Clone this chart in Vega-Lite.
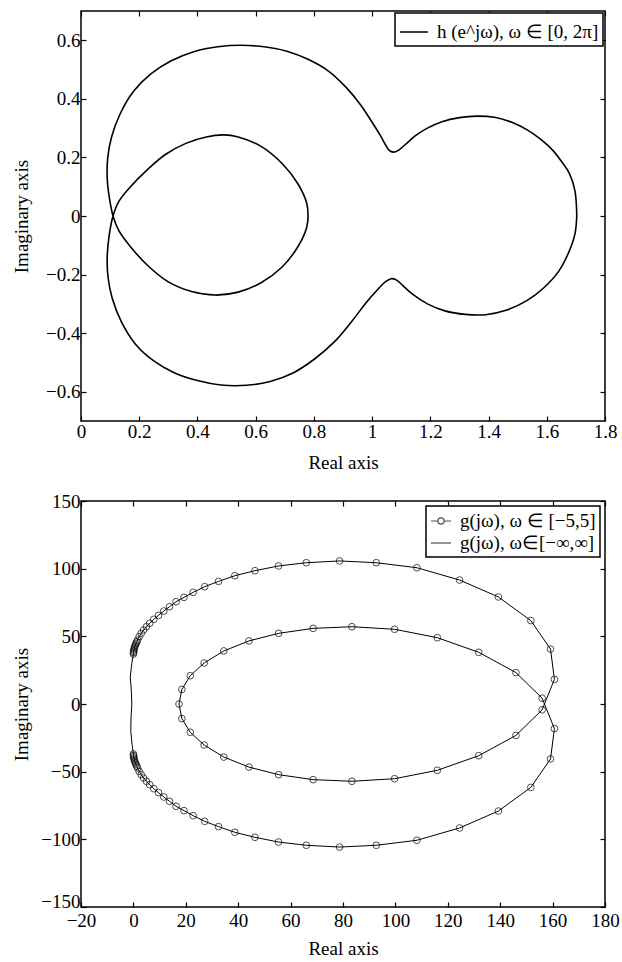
{
  "$schema": "https://vega.github.io/schema/vega-lite/v6.json",
  "background": "white",
  "padding": {"left": 11, "top": 9, "right": 8, "bottom": 2},
  "spacing": 18,
  "resolve": {"legend": {"color": "independent", "shape": "independent"}, "scale": {"color": "independent", "shape": "independent"}},
  "config": {
    "font": "Liberation Serif",
    "view": {"stroke": "black", "strokeWidth": 1.5},
    "axis": {
      "domain": false, "grid": false, "tickColor": "black", "tickSize": -5, "tickWidth": 1.2,
      "labelFont": "Liberation Serif", "labelFontSize": 19, "labelColor": "black", "labelPadding": 6,
      "labelOverlap": false, "labelFlush": false,
      "titleFont": "Liberation Serif", "titleFontSize": 19, "titleFontWeight": "normal", "titleColor": "black"
    },
    "legend": {
      "orient": "top-right", "offset": 3, "padding": 4, "strokeColor": "black", "strokeWidth": 1.5,
      "fillColor": "white", "labelFont": "Liberation Serif", "labelFontSize": 19, "labelColor": "black",
      "symbolStrokeColor": "black", "symbolStrokeWidth": 1.2, "symbolFillColor": "transparent",
      "rowPadding": 1, "labelOffset": 8, "symbolSize": 400, "title": null, "labelLimit": 400
    }
  },
  "datasets": {
    "h": [
      {"o":1,"x":1.703,"y":0},{"o":2,"x":1.697,"y":0.085},{"o":3,"x":1.678,"y":0.145},{"o":4,"x":1.655,"y":0.18},
      {"o":5,"x":1.62,"y":0.225},{"o":6,"x":1.575,"y":0.265},{"o":7,"x":1.533,"y":0.294},{"o":8,"x":1.48,"y":0.32},
      {"o":9,"x":1.42,"y":0.337},{"o":10,"x":1.36,"y":0.341},{"o":11,"x":1.3,"y":0.336},{"o":12,"x":1.24,"y":0.322},
      {"o":13,"x":1.19,"y":0.3},{"o":14,"x":1.15,"y":0.275},{"o":15,"x":1.115,"y":0.245},{"o":16,"x":1.09,"y":0.224},
      {"o":17,"x":1.073,"y":0.218},{"o":18,"x":1.058,"y":0.225},{"o":19,"x":1.045,"y":0.245},{"o":20,"x":1.03,"y":0.272},
      {"o":21,"x":1.0,"y":0.32},{"o":22,"x":0.96,"y":0.38},{"o":23,"x":0.91,"y":0.44},{"o":24,"x":0.85,"y":0.495},
      {"o":25,"x":0.78,"y":0.535},{"o":26,"x":0.71,"y":0.562},{"o":27,"x":0.63,"y":0.578},{"o":28,"x":0.55,"y":0.583},
      {"o":29,"x":0.47,"y":0.578},{"o":30,"x":0.39,"y":0.562},{"o":31,"x":0.31,"y":0.53},{"o":32,"x":0.24,"y":0.485},
      {"o":33,"x":0.18,"y":0.425},{"o":34,"x":0.135,"y":0.35},{"o":35,"x":0.105,"y":0.27},{"o":36,"x":0.092,"y":0.2},
      {"o":37,"x":0.09,"y":0.13},{"o":38,"x":0.097,"y":0.065},{"o":39,"x":0.11,"y":0.0},{"o":40,"x":0.13,"y":-0.05},
      {"o":41,"x":0.17,"y":-0.105},{"o":42,"x":0.23,"y":-0.17},{"o":43,"x":0.3,"y":-0.225},{"o":44,"x":0.38,"y":-0.258},
      {"o":45,"x":0.46,"y":-0.27},{"o":46,"x":0.54,"y":-0.26},{"o":47,"x":0.62,"y":-0.227},{"o":48,"x":0.69,"y":-0.175},
      {"o":49,"x":0.745,"y":-0.105},{"o":50,"x":0.775,"y":-0.04},{"o":51,"x":0.78,"y":0.0},{"o":52,"x":0.775,"y":0.045},
      {"o":53,"x":0.745,"y":0.11},{"o":54,"x":0.69,"y":0.18},{"o":55,"x":0.62,"y":0.237},{"o":56,"x":0.54,"y":0.27},
      {"o":57,"x":0.49,"y":0.277},{"o":58,"x":0.43,"y":0.27},{"o":59,"x":0.36,"y":0.248},{"o":60,"x":0.29,"y":0.21},
      {"o":61,"x":0.23,"y":0.16},{"o":62,"x":0.17,"y":0.1},{"o":63,"x":0.13,"y":0.05},{"o":64,"x":0.11,"y":0.0},
      {"o":65,"x":0.097,"y":-0.065},{"o":66,"x":0.09,"y":-0.14},{"o":67,"x":0.093,"y":-0.21},{"o":68,"x":0.107,"y":-0.28},
      {"o":69,"x":0.138,"y":-0.36},{"o":70,"x":0.185,"y":-0.435},{"o":71,"x":0.25,"y":-0.495},{"o":72,"x":0.32,"y":-0.535},
      {"o":73,"x":0.4,"y":-0.562},{"o":74,"x":0.48,"y":-0.577},{"o":75,"x":0.57,"y":-0.578},{"o":76,"x":0.65,"y":-0.565},
      {"o":77,"x":0.73,"y":-0.535},{"o":78,"x":0.8,"y":-0.49},{"o":79,"x":0.87,"y":-0.43},{"o":80,"x":0.93,"y":-0.36},
      {"o":81,"x":0.98,"y":-0.295},{"o":82,"x":1.02,"y":-0.25},{"o":83,"x":1.045,"y":-0.225},{"o":84,"x":1.065,"y":-0.214},
      {"o":85,"x":1.083,"y":-0.218},{"o":86,"x":1.105,"y":-0.237},{"o":87,"x":1.14,"y":-0.268},{"o":88,"x":1.19,"y":-0.3},
      {"o":89,"x":1.25,"y":-0.324},{"o":90,"x":1.32,"y":-0.336},{"o":91,"x":1.39,"y":-0.337},{"o":92,"x":1.46,"y":-0.322},
      {"o":93,"x":1.53,"y":-0.29},{"o":94,"x":1.59,"y":-0.245},{"o":95,"x":1.64,"y":-0.19},{"o":96,"x":1.675,"y":-0.125},
      {"o":97,"x":1.697,"y":-0.06},{"o":98,"x":1.703,"y":0}
    ],
    "g": [
      {"s":"fin","o":1,"x":0,"y":36.9},{"s":"fin","o":2,"x":0.05,"y":38},{"s":"fin","o":3,"x":0.1,"y":39},{"s":"fin","o":4,"x":0.2,"y":40},
      {"s":"fin","o":5,"x":0.35,"y":41.2},{"s":"fin","o":6,"x":0.5,"y":42.4},{"s":"fin","o":7,"x":0.75,"y":43.6},{"s":"fin","o":8,"x":1,"y":44.8},
      {"s":"fin","o":9,"x":1.3,"y":46},{"s":"fin","o":10,"x":1.6,"y":47.3},{"s":"fin","o":11,"x":2.2,"y":49.8},{"s":"fin","o":12,"x":3,"y":52.2},
      {"s":"fin","o":13,"x":3.9,"y":54.7},{"s":"fin","o":14,"x":5,"y":57.1},{"s":"fin","o":15,"x":6.2,"y":59.6},{"s":"fin","o":16,"x":7.8,"y":62.6},
      {"s":"fin","o":17,"x":9.6,"y":65.5},{"s":"fin","o":18,"x":11.6,"y":68.7},{"s":"fin","o":19,"x":13.8,"y":71.9},{"s":"fin","o":20,"x":16.3,"y":75.6},
      {"s":"fin","o":21,"x":19.3,"y":78.8},{"s":"fin","o":22,"x":22.8,"y":82.5},{"s":"fin","o":23,"x":27.2,"y":86.7},{"s":"fin","o":24,"x":32.5,"y":90.6},
      {"s":"fin","o":25,"x":38.7,"y":94.8},{"s":"fin","o":26,"x":46.4,"y":98.5},{"s":"fin","o":27,"x":55.4,"y":102},{"s":"fin","o":28,"x":66,"y":104.4},
      {"s":"fin","o":29,"x":78.7,"y":105.7},{"s":"fin","o":30,"x":92.7,"y":104.4},{"s":"fin","o":31,"x":108.2,"y":100.7},{"s":"fin","o":32,"x":124.5,"y":91.6},
      {"s":"fin","o":33,"x":139.3,"y":79.1},{"s":"fin","o":34,"x":151.7,"y":61.6},{"s":"fin","o":35,"x":159.2,"y":40.6},{"s":"fin","o":36,"x":160.7,"y":18.2},
      {"s":"fin","o":37,"x":156,"y":-4.3},
      {"s":"fin","o":38,"x":146,"y":-23.2},{"s":"fin","o":39,"x":131.8,"y":-38.2},{"s":"fin","o":40,"x":116,"y":-49},{"s":"fin","o":41,"x":99.7,"y":-55.2},
      {"s":"fin","o":42,"x":83.4,"y":-57.1},{"s":"fin","o":43,"x":68.6,"y":-55.9},{"s":"fin","o":44,"x":55.4,"y":-52.2},{"s":"fin","o":45,"x":44.1,"y":-46.6},
      {"s":"fin","o":46,"x":34.5,"y":-39.2},{"s":"fin","o":47,"x":27,"y":-30.3},{"s":"fin","o":48,"x":21.7,"y":-20.9},{"s":"fin","o":49,"x":18.5,"y":-10.8},
      {"s":"fin","o":50,"x":17.4,"y":0},
      {"s":"fin","o":51,"x":18.5,"y":10.8},{"s":"fin","o":52,"x":21.7,"y":20.9},{"s":"fin","o":53,"x":27,"y":30.3},{"s":"fin","o":54,"x":34.5,"y":39.2},
      {"s":"fin","o":55,"x":44.1,"y":46.6},{"s":"fin","o":56,"x":55.4,"y":52.2},{"s":"fin","o":57,"x":68.6,"y":55.9},{"s":"fin","o":58,"x":83.4,"y":57.1},
      {"s":"fin","o":59,"x":99.7,"y":55.2},{"s":"fin","o":60,"x":116,"y":49},{"s":"fin","o":61,"x":131.8,"y":38.2},{"s":"fin","o":62,"x":146,"y":23.2},
      {"s":"fin","o":63,"x":156,"y":4.3},
      {"s":"fin","o":64,"x":160.7,"y":-18.2},{"s":"fin","o":65,"x":159.2,"y":-40.6},{"s":"fin","o":66,"x":151.7,"y":-61.6},{"s":"fin","o":67,"x":139.3,"y":-79.1},
      {"s":"fin","o":68,"x":124.5,"y":-91.6},{"s":"fin","o":69,"x":108.2,"y":-100.7},{"s":"fin","o":70,"x":92.7,"y":-104.4},{"s":"fin","o":71,"x":78.7,"y":-105.7},
      {"s":"fin","o":72,"x":66,"y":-104.4},{"s":"fin","o":73,"x":55.4,"y":-102},{"s":"fin","o":74,"x":46.4,"y":-98.5},{"s":"fin","o":75,"x":38.7,"y":-94.8},
      {"s":"fin","o":76,"x":32.5,"y":-90.6},{"s":"fin","o":77,"x":27.2,"y":-86.7},{"s":"fin","o":78,"x":22.8,"y":-82.5},{"s":"fin","o":79,"x":19.3,"y":-78.8},
      {"s":"fin","o":80,"x":16.3,"y":-75.6},{"s":"fin","o":81,"x":13.8,"y":-71.9},{"s":"fin","o":82,"x":11.6,"y":-68.7},{"s":"fin","o":83,"x":9.6,"y":-65.5},
      {"s":"fin","o":84,"x":7.8,"y":-62.6},{"s":"fin","o":85,"x":6.2,"y":-59.6},{"s":"fin","o":86,"x":5,"y":-57.1},{"s":"fin","o":87,"x":3.9,"y":-54.7},
      {"s":"fin","o":88,"x":3,"y":-52.2},{"s":"fin","o":89,"x":2.2,"y":-49.8},{"s":"fin","o":90,"x":1.6,"y":-47.3},{"s":"fin","o":91,"x":1.3,"y":-46},
      {"s":"fin","o":92,"x":1,"y":-44.8},{"s":"fin","o":93,"x":0.75,"y":-43.6},{"s":"fin","o":94,"x":0.5,"y":-42.4},{"s":"fin","o":95,"x":0.35,"y":-41.2},
      {"s":"fin","o":96,"x":0.2,"y":-40},{"s":"fin","o":97,"x":0.1,"y":-39},{"s":"fin","o":98,"x":0.05,"y":-38},{"s":"fin","o":99,"x":0,"y":-36.9},
      {"s":"inf","o":1,"x":0,"y":-36.9},{"s":"inf","o":2,"x":-0.5,"y":-30},{"s":"inf","o":3,"x":-1,"y":-20},{"s":"inf","o":4,"x":-0.9,"y":-10},
      {"s":"inf","o":5,"x":-0.6,"y":0},{"s":"inf","o":6,"x":-0.8,"y":10},{"s":"inf","o":7,"x":-1.2,"y":20},{"s":"inf","o":8,"x":-0.6,"y":30},
      {"s":"inf","o":9,"x":0,"y":36.9}
    ]
  },
  "vconcat": [
    {
      "width": 524, "height": 410,
      "data": {"name": "h"},
      "resolve": {"axis": {"x": "independent", "y": "independent"}},
      "layer": [
        {
          "mark": {"type": "line", "interpolate": "catmull-rom", "strokeWidth": 1.6},
          "encoding": {
            "x": {"field": "x", "type": "quantitative", "scale": {"domain": [0, 1.8], "nice": false, "zero": false},
                  "axis": {"title": "Real axis", "values": [0,0.2,0.4,0.6,0.8,1,1.2,1.4,1.6,1.8], "format": "~g", "titlePadding": 12}},
            "y": {"field": "y", "type": "quantitative", "scale": {"domain": [-0.7, 0.7], "nice": false, "zero": false},
                  "axis": {"title": "Imaginary axis", "values": [-0.6,-0.4,-0.2,0,0.2,0.4,0.6], "format": "~g", "minExtent": 42, "maxExtent": 42, "titlePadding": 8}},
            "order": {"field": "o", "type": "quantitative"},
            "color": {"datum": "h (e^jω), ω ∈ [0, 2π]", "type": "nominal", "scale": {"range": ["black"]},
                      "legend": {"symbolType": "stroke", "symbolSize": 800, "symbolStrokeWidth": 1.5, "offset": 2}}
          }
        },
        {
          "mark": {"type": "point", "opacity": 0},
          "encoding": {
            "x": {"field": "x", "type": "quantitative", "axis": {"orient": "top", "labels": false, "title": null, "values": [0,0.2,0.4,0.6,0.8,1,1.2,1.4,1.6,1.8]}},
            "y": {"field": "y", "type": "quantitative", "axis": {"orient": "right", "labels": false, "title": null, "values": [-0.6,-0.4,-0.2,0,0.2,0.4,0.6]}}
          }
        }
      ]
    },
    {
      "width": 524, "height": 406,
      "data": {"name": "g"},
      "resolve": {"axis": {"x": "independent", "y": "independent"}},
      "layer": [
        {
          "mark": {"type": "line", "strokeWidth": 1, "color": "black"},
          "encoding": {
            "x": {"field": "x", "type": "quantitative", "scale": {"domain": [-20, 180], "nice": false, "zero": false},
                  "axis": {"title": "Real axis", "values": [-20,0,20,40,60,80,100,120,140,160,180], "format": "d", "titlePadding": 9, "labelPadding": 9}},
            "y": {"field": "y", "type": "quantitative", "scale": {"domain": [-150, 150], "nice": false, "zero": false},
                  "axis": {"title": "Imaginary axis", "values": [-150,-100,-50,0,50,100,150], "format": "d", "minExtent": 42, "maxExtent": 42, "titlePadding": 8,
                           "labelOffset": {"condition": {"test": "datum.value === -150", "value": -6}, "value": 0}}},
            "order": {"field": "o", "type": "quantitative"},
            "detail": {"field": "s", "type": "nominal"}
          }
        },
        {
          "transform": [{"filter": "datum.s === 'fin'"}],
          "mark": {"type": "point", "shape": "circle", "filled": false, "size": 45, "strokeWidth": 1, "color": "black"},
          "encoding": {
            "x": {"field": "x", "type": "quantitative", "axis": null},
            "y": {"field": "y", "type": "quantitative", "axis": null}
          }
        },
        {
          "transform": [{"filter": "false"}],
          "mark": {"type": "point", "filled": false, "color": "black"},
          "encoding": {
            "x": {"field": "x", "type": "quantitative", "axis": null},
            "y": {"field": "y", "type": "quantitative", "axis": null},
            "shape": {"field": "s", "type": "nominal",
                      "scale": {"domain": ["g(jω), ω ∈ [−5,5]", "g(jω), ω∈[−∞,∞]"],
                                "range": ["M-1,0L-0.32,0M0.32,0L1,0M-0.32,0A0.32,0.32,0,1,1,0.32,0A0.32,0.32,0,1,1,-0.32,0", "stroke"]},
                      "legend": {"offset": 5, "symbolSize": 400}}
          }
        },
        {
          "mark": {"type": "point", "opacity": 0},
          "encoding": {
            "x": {"field": "x", "type": "quantitative", "axis": {"orient": "top", "labels": false, "title": null, "values": [-20,0,20,40,60,80,100,120,140,160,180]}},
            "y": {"field": "y", "type": "quantitative", "axis": {"orient": "right", "labels": false, "title": null, "values": [-150,-100,-50,0,50,100,150]}}
          }
        }
      ]
    }
  ]
}
